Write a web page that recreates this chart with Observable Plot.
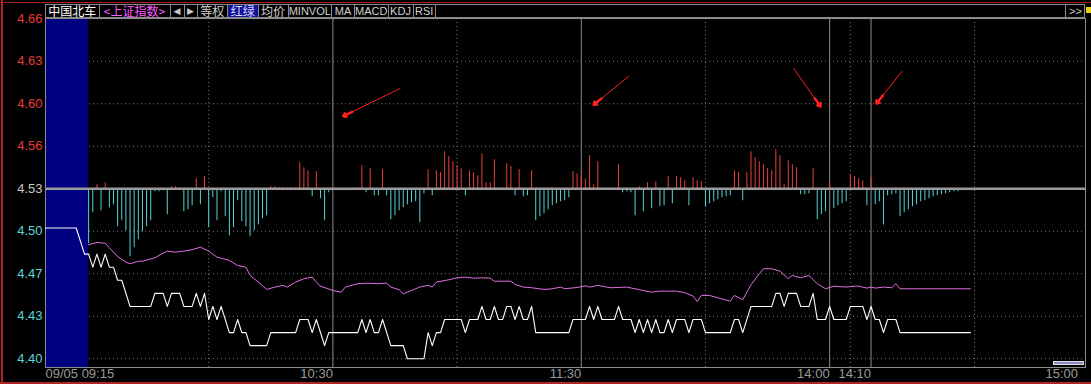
<!DOCTYPE html>
<html>
<head>
<meta charset="utf-8">
<script src="https://cdn.jsdelivr.net/npm/d3@7"></script>
<script src="https://cdn.jsdelivr.net/npm/@observablehq/plot@0.6"></script>
<style>
html,body{margin:0;padding:0;background:#000;}
#wrap{position:relative;width:1091px;height:384px;background:#000;overflow:hidden;font-family:"Liberation Sans",Arial,sans-serif;}
#chart{position:absolute;left:0;top:0;}
#chart svg{display:block;}
.cell{position:absolute;top:5px;height:12px;border-right:1px solid #8a8a8a;box-sizing:border-box;display:flex;align-items:center;justify-content:center;white-space:nowrap;overflow:visible;}
.cjk{font-family:"Noto Sans CJK SC",sans-serif;font-size:12px;line-height:12px;}
.lat{font-family:"Liberation Sans",Arial,sans-serif;font-size:11px;line-height:12px;}
</style>
</head>
<body>
<div id="wrap">
  <div id="chart"></div>
</div>
<script>
// ---------------- DATA ----------------
const stockName = "中国北车";
const indexName = "<上证指数>";
const toolbarLabels = ["◀", "▶", "等权", "红绿", "均价", "MINVOL", "MA", "MACD", "KDJ", "RSI"];

const prevClose = 4.53;
const yTickValues = [4.66, 4.6275, 4.595, 4.5625, 4.53, 4.4975, 4.465, 4.4325, 4.40];
const yTickLabels = ["4.66", "4.63", "4.60", "4.56", "4.53", "4.50", "4.47", "4.43", "4.40"];

// time in minutes after 09:30 (negative = 09:15-09:25 call auction)
const xTickTimes = [-9.42, 60, 120, 180, 190, 240];
const xTickLabels = ["09/05 09:15", "10:30", "11:30", "14:00", "14:10", "15:00"];
const solidTimeLines = [60, 120, 180, 190];
const dottedTimeLines = [30, 90, 150, 185, 215];
const auctionSpan = [-9.42, 1];

// price line vertices (minute, price)
const priceTimes = [-9.4, -2, 0, 1, 2, 3, 4, 5, 6, 7, 8, 9, 11, 16, 17, 19, 20, 21, 23, 24, 26, 27, 28, 29, 30, 31, 32, 33, 35, 36, 37, 38, 39, 40, 44, 45, 51, 52, 54, 55, 56, 58, 59,
  66, 67, 68, 69, 70, 71, 72, 74, 77, 78, 82, 83, 84, 85, 86, 87, 91, 92, 93, 95, 96, 97, 98, 99, 100, 101, 102, 103, 104, 105, 106, 107, 108, 109, 117, 118,
  121, 122, 123, 124, 125, 128, 129, 130, 132, 133, 134, 135, 136, 137, 138, 139, 140, 141, 142, 143, 145, 146, 147, 149, 150, 156, 157, 158, 159, 161,
  166, 167, 168, 169, 170, 172, 173, 175, 176, 177, 179, 180, 181, 184, 185, 188, 189, 190, 191, 192, 193, 194, 196, 197, 214];
const priceValues = [4.50, 4.50, 4.48, 4.48, 4.47, 4.48, 4.47, 4.48, 4.47, 4.47, 4.46, 4.46, 4.44, 4.44, 4.45, 4.45, 4.44, 4.45, 4.45, 4.44, 4.44, 4.45, 4.44, 4.45, 4.43, 4.44, 4.43, 4.44, 4.42, 4.42, 4.43, 4.42, 4.42, 4.41, 4.41, 4.42, 4.42, 4.43, 4.43, 4.42, 4.43, 4.41, 4.42,
  4.42, 4.43, 4.42, 4.43, 4.42, 4.42, 4.43, 4.41, 4.41, 4.40, 4.40, 4.42, 4.41, 4.42, 4.42, 4.43, 4.43, 4.42, 4.43, 4.43, 4.44, 4.43, 4.43, 4.44, 4.43, 4.43, 4.44, 4.44, 4.43, 4.44, 4.43, 4.43, 4.44, 4.42, 4.42, 4.43,
  4.43, 4.44, 4.43, 4.44, 4.43, 4.43, 4.44, 4.43, 4.43, 4.42, 4.43, 4.42, 4.43, 4.42, 4.43, 4.42, 4.42, 4.43, 4.42, 4.43, 4.43, 4.42, 4.43, 4.43, 4.42, 4.42, 4.43, 4.43, 4.42, 4.44,
  4.44, 4.45, 4.45, 4.44, 4.45, 4.45, 4.44, 4.44, 4.45, 4.43, 4.43, 4.44, 4.43, 4.43, 4.44, 4.44, 4.43, 4.44, 4.43, 4.43, 4.42, 4.43, 4.43, 4.42, 4.42];

// average price line vertices
const avgTimes = [1, 3, 5, 6, 8, 10, 11, 13, 14, 17, 18, 20, 22, 24, 26, 28, 30, 32, 35, 37, 39, 40, 42, 44, 46, 48, 49, 51, 53, 55, 56, 57, 60,
  62, 63, 66, 68, 71, 73, 74, 76, 77, 79, 81, 83, 84, 85, 88, 90, 92, 94, 96, 98, 99, 103, 104, 106, 108, 111, 113, 115, 116, 119,
  121, 122, 124, 127, 131, 134, 137, 139, 143, 145, 147, 148, 149, 151, 153, 156, 157, 159, 161, 163, 164, 166, 168, 170, 171, 173, 175, 177, 179,
  181, 184, 186, 187, 189, 190, 191, 193, 195, 196, 197, 214];
const avgValues = [4.4872, 4.4889, 4.4884, 4.4849, 4.4782, 4.4739, 4.4726, 4.4746, 4.4746, 4.4772, 4.4790, 4.4823, 4.4815, 4.4823, 4.4834, 4.4853, 4.4823, 4.4777, 4.4752, 4.4713, 4.4700, 4.4637, 4.4586, 4.4530, 4.4548, 4.4561, 4.4548, 4.4586, 4.4612, 4.4624, 4.4586, 4.4555, 4.4522,
  4.4509, 4.4548, 4.4574, 4.4578, 4.4574, 4.4578, 4.4548, 4.4528, 4.4497, 4.4522, 4.4548, 4.4561, 4.4548, 4.4586, 4.4604, 4.4619, 4.4624, 4.4616, 4.4619, 4.4616, 4.4593, 4.4593, 4.4568, 4.4548, 4.4543, 4.4530, 4.4535, 4.4548, 4.4535, 4.4545,
  4.4558, 4.4548, 4.4561, 4.4543, 4.4548, 4.4528, 4.4509, 4.4517, 4.4517, 4.4505, 4.4479, 4.4438, 4.4484, 4.4484, 4.4466, 4.4440, 4.4484, 4.4451, 4.4566, 4.4650, 4.4688, 4.4688, 4.4670, 4.4612, 4.4637, 4.4619, 4.4637, 4.4574, 4.4535,
  4.4555, 4.4548, 4.4555, 4.4555, 4.4540, 4.4548, 4.4540, 4.4548, 4.4543, 4.4574, 4.4535, 4.4535];

// red/green strength bars, one per minute from minute 1 (positive = red, negative = green)
const barValues = [
  -55, -24, 4, -22, 6, -19, -16, -38, -32, -42, -68, -59, -51, -43, -38, -32, -3, -3, -2, -26,
  2, 2, 0.5, -23, -21, -17, 10, -16, 12, -39, -9, -32, -3, -28, -47, -39, -12, -33, -38, -48,
  -42, -36, -30, -27, 2, 2, 1, 1, 1, 1, 1, 26, 21, 18, -8, 17, -10, -32, -4, -2,
  -2, -2, -2, -2, -1, 1, 23, -4, 20, -7, -7, 19, -7, -31, -27, -22, -19, -16, -14, -13,
  -34, -5, 19, -7, 18, 16, 37, 32, 27, 23, 20, -7, 18, 16, 13, 35, 6, 6, 29, 1,
  1, 25, 22, -7, 19, -8, -7, 18, -32, -28, -25, -21, -17, -15, -13, -12, -9, 17, 15, 13,
  10, 33, 4, 27, -1, -1, -1, -1, 24, -4, -3, -4, -27, 2, -23, 6, -20, 7, -18, -17,
  12, -15, 12, 11, 8, -17, 11, 8, 7, -18, -15, -13, -11, -9, -8, -7, 18, 16, -12, 16,
  37, 31, 27, 24, 20, 18, 39, 33, 4, 28, 24, 21, -6, -6, -5, 20, -31, -26, -23, 6,
  -20, -17, -15, -13, 14, 12, 10, 8, -17, 11, -16, -13, -36, -7, -6, -5, -28, -24, -21, -18,
  -16, -13, -12, -10, -8, -7, -6, -5, -4, -3, -3, -2, -2, -2];
const barUnit = 1 / 1307.7; // price per bar unit

// red annotation arrows (minute, price)
const arrowFromT = [76.3, 131.5, 171.3, 197.5];
const arrowFromP = [4.6067, 4.6161, 4.6220, 4.6199];
const arrowToT = [62.5, 123.0, 177.8, 191.3];
const arrowToP = [4.5855, 4.5942, 4.5929, 4.5952];

// ---------------- BUILD ----------------
const W = 1091, H = 384;
const M = {left: 45, right: 6, top: 18, bottom: 17};
const xDomain = [-9.42, 241.8];
const yDomain = [4.3933, 4.6602];
const xs = d3.scaleLinear(xDomain, [M.left, W - M.right]);
const ys = d3.scaleLinear(yDomain, [H - M.bottom, M.top]);

const RED = "#e8403a", CYAN = "#55d5d5", GRID = "#7c7c7c";

const price = priceTimes.map((t, i) => ({t, p: priceValues[i]}));
const avg = avgTimes.map((t, i) => ({t, p: avgValues[i]}));
const bars = barValues.map((v, i) => ({t: i + 1, v}));
const yTicks = yTickValues.map((v, i) => ({v, label: yTickLabels[i],
  color: Math.abs(v - prevClose) < 1e-9 ? "#c8c8c8" : v > prevClose ? "#e83a3a" : "#5cd6d6"}));
const xTicks = xTickTimes.map((t, i) => ({t, label: xTickLabels[i]}));
const arrows = arrowFromT.map((_, i) => {
  const x1 = arrowFromT[i], y1 = arrowFromP[i], x2 = arrowToT[i], y2 = arrowToP[i];
  const L = Math.hypot(xs(x1) - xs(x2), ys(y1) - ys(y2));
  const f = 10 / L;
  return {x1, y1, x2, y2, hx: x2 + (x1 - x2) * f, hy: y2 + (y1 - y2) * f};
});

const chart = Plot.plot({
  width: W, height: H,
  marginLeft: M.left, marginRight: M.right, marginTop: M.top, marginBottom: M.bottom,
  x: {domain: xDomain, axis: null},
  y: {domain: yDomain, axis: null},
  color: {type: "identity"},
  style: {background: "#000", fontFamily: "Liberation Sans, Arial, sans-serif", overflow: "visible"},
  marks: [
    Plot.ruleY(yTickValues.filter(v => v !== prevClose), {stroke: GRID, strokeDasharray: "1,3"}),
    Plot.ruleX(dottedTimeLines, {stroke: GRID, strokeDasharray: "1,3"}),
    Plot.ruleX(solidTimeLines, {stroke: "#8c8c8c"}),
    Plot.rect([auctionSpan], {x1: d => d[0], x2: d => d[1], y1: yDomain[0], y2: yDomain[1], fill: "#000080"}),
    Plot.ruleX(bars, {x: "t", y1: prevClose, y2: d => prevClose + d.v * barUnit,
      stroke: d => d.v >= 0 ? RED : CYAN, strokeWidth: 1}),
    Plot.ruleY([prevClose], {stroke: "#9a9a9a", strokeWidth: 2.5}),
    Plot.frame({stroke: "#8c8c8c"}),
    Plot.line(avg, {x: "t", y: "p", stroke: "#e070e0", strokeWidth: 1}),
    Plot.line(price, {x: "t", y: "p", stroke: "#ffffff", strokeWidth: 1.1}),
    Plot.text(yTicks, {frameAnchor: "left", y: "v", text: "label", fill: "color", textAnchor: "end", dx: -3, fontSize: 13}),
    Plot.text(xTicks.slice(0, 1), {frameAnchor: "bottom", x: "t", text: "label", fill: "#9a9a9a", textAnchor: "start", dy: 10, fontSize: 13}),
    Plot.text(xTicks.slice(1), {frameAnchor: "bottom", x: "t", text: "label", fill: "#9a9a9a", textAnchor: "end", dy: 10, fontSize: 13}),
    Plot.link(arrows, {x1: "x1", y1: "y1", x2: "x2", y2: "y2", stroke: "#ff2020", strokeWidth: 1}),
    Plot.arrow(arrows, {x1: "hx", y1: "hy", x2: "x2", y2: "y2", stroke: "#ff2020", strokeWidth: 2.5, headLength: 4.5, headAngle: 70})
  ]
});
document.getElementById("chart").appendChild(chart);

// ---------------- HEADER / FRAME DECOR ----------------
const wrap = document.getElementById("wrap");
function addDiv(style, text, cls) {
  const d = document.createElement("div");
  if (cls) d.className = cls;
  Object.assign(d.style, style);
  if (text != null) d.textContent = text;
  wrap.appendChild(d);
  return d;
}
// outer red border
addDiv({position: "absolute", left: "1px", top: "0px", width: "2px", height: "384px", background: "#b02424"});
addDiv({position: "absolute", left: "0px", top: "2px", width: "1091px", height: "1px", background: "#a02020"});
addDiv({position: "absolute", left: "0px", top: "382px", width: "1091px", height: "2px", background: "#b02424"});
// header band
addDiv({position: "absolute", left: "45px", top: "4px", width: "1040px", height: "14px", border: "1px solid #8a8a8a", boxSizing: "border-box", background: "#000"});
const cellEdges = [46, 99.5, 170.5, 184.5, 197.5, 228, 258.5, 288.5, 332, 355, 388.5, 413.5, 436];
const cellTexts = [stockName, indexName, ...toolbarLabels];
const cellColors = ["#ffffff", "#ff5cff", "#c8c8c8", "#c8c8c8", "#d0d0d0", "#d8d8ff", "#d0d0d0", "#d0d0d0", "#d0d0d0", "#d0d0d0", "#d0d0d0", "#d0d0d0"];
cellTexts.forEach((txt, i) => {
  const isLatin = /^[A-Z]+$/.test(txt);
  const isArrow = txt === "◀" || txt === "▶";
  const d = addDiv({left: cellEdges[i] + "px", width: (cellEdges[i + 1] - cellEdges[i]) + "px", color: cellColors[i]}, txt, "cell " + (isLatin ? "lat" : "cjk"));
  if (isArrow) { d.style.fontFamily = "DejaVu Sans"; d.style.fontSize = "9px"; }
  if (txt === "红绿") d.style.background = "#14149a";
});
addDiv({left: "1065px", width: "20px", color: "#c8c8c8", borderLeft: "1px solid #8a8a8a", borderRight: "none"}, ">>", "cell lat");
addDiv({position: "absolute", left: "1086px", top: "7px", width: "5px", height: "6px", background: "#e8d020"});
// scroll indicator
addDiv({position: "absolute", left: "1053px", top: "361px", width: "31px", height: "4px", border: "1px solid #e0e0e0", boxSizing: "border-box", background: "#8888c8"});
</script>
</body>
</html>
